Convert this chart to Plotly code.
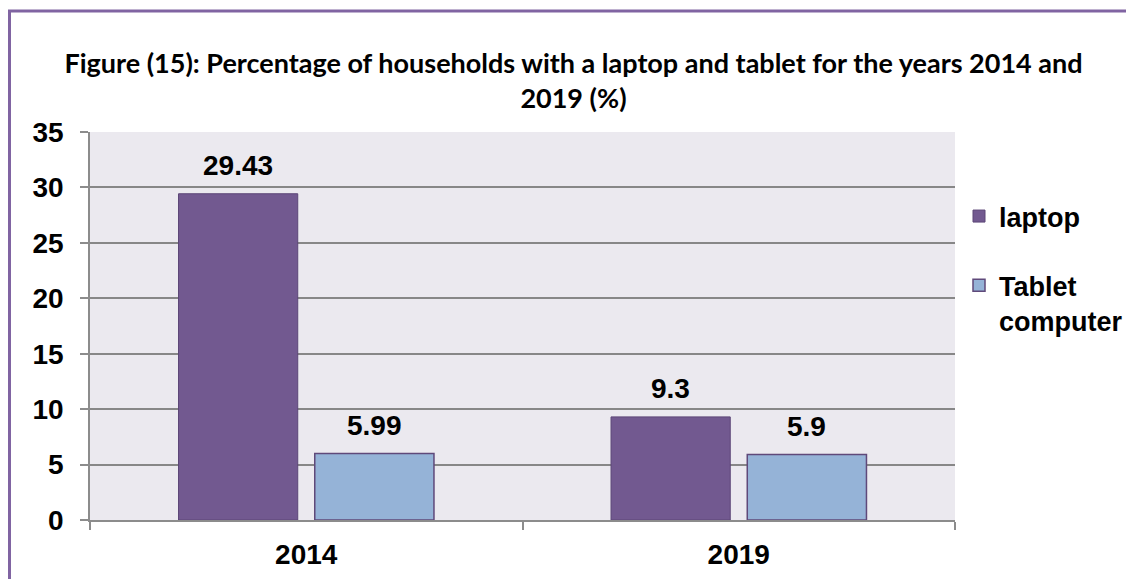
import plotly.graph_objects as go

years = ["2014", "2019"]
laptop = [29.43, 9.3]
tablet = [5.99, 5.9]
series_names = ["laptop", "Tablet<br>computer"]
y_ticks = [0, 5, 10, 15, 20, 25, 30, 35]
title_text = ("Figure (15): Percentage of households with a laptop and tablet for the years 2014 and"
              "<br>2019 (%)")

# the page places the figure 8 px from the top-left corner
W, H = 1126, 571
L, R, T, B = 82, 179, 124, 59
pw, ph = W - L - R, H - T - B

ARIAL = "Liberation Sans, Arial"

fig = go.Figure()
fig.add_trace(go.Bar(x=years, y=laptop, name=series_names[0], legendgroup="a",
                     marker=dict(color="#725990", line=dict(color="#5c4677", width=1))))
fig.add_trace(go.Bar(x=years, y=tablet, name=series_names[1], legendgroup="b",
                     marker=dict(color="#95b3d7", line=dict(color="#5f497a", width=1.5))))

lab_font = dict(family=ARIAL, size=28, color="#000000", weight="bold")
for vals, shift in ((laptop, -68), (tablet, 68)):
    for i, v in enumerate(vals):
        fig.add_annotation(x=i, y=v, xref="x", yref="y", text=f"{v:g}",
                           showarrow=False, xshift=shift, yshift=28, yanchor="middle",
                           font=lab_font)

# purple outer border (figure pixel coords -> paper)
def px_x(p):
    return (p - L) / pw
def px_y(p):
    return (H - B - p) / ph
fig.add_shape(type="rect", xref="paper", yref="paper",
              x0=px_x(1.5), x1=px_x(W + 10), y0=px_y(3), y1=px_y(H + 10),
              line=dict(color="#8064a2", width=3), layer="below")

fig.update_layout(
    width=W, height=H,
    margin=dict(l=L, r=R, t=T, b=B, autoexpand=False),
    paper_bgcolor="#ffffff",
    plot_bgcolor="#ebe9ef",
    barmode="group", bargap=0.37, bargroupgap=0.125,
    title=dict(text=title_text, x=0.5022, xanchor="center", y=0.8856, yanchor="top",
               font=dict(family="Lato, Open Sans", size=27, color="#000000", weight="bold")),
    legend=dict(x=px_x(951), xanchor="left", y=px_y(184), yanchor="top",
                font=dict(family=ARIAL, size=27, color="#000000", weight="bold"),
                tracegroupgap=31, valign="top", itemwidth=30, bgcolor="rgba(0,0,0,0)"),
    showlegend=True,
)
fig.update_xaxes(type="category", showline=True, linecolor="#8c8c8c", linewidth=1.5,
                 ticks="outside", tickson="boundaries", ticklen=8, tickcolor="#8c8c8c",
                 tickwidth=1.5, showgrid=False, ticklabelstandoff=9, tickangle=0,
                 tickfont=dict(family=ARIAL, size=28, color="#000000", weight="bold"))
fig.update_yaxes(range=[0, 35], tickvals=y_ticks, showline=True, linecolor="#8c8c8c",
                 linewidth=1.5, ticks="outside", ticklen=8, tickcolor="#8c8c8c", tickwidth=1.5,
                 showgrid=True, gridcolor="#878787", gridwidth=1.5, zeroline=False,
                 ticklabelstandoff=11,
                 tickfont=dict(family=ARIAL, size=28, color="#000000", weight="bold"))

fig.write_html("out.html")
